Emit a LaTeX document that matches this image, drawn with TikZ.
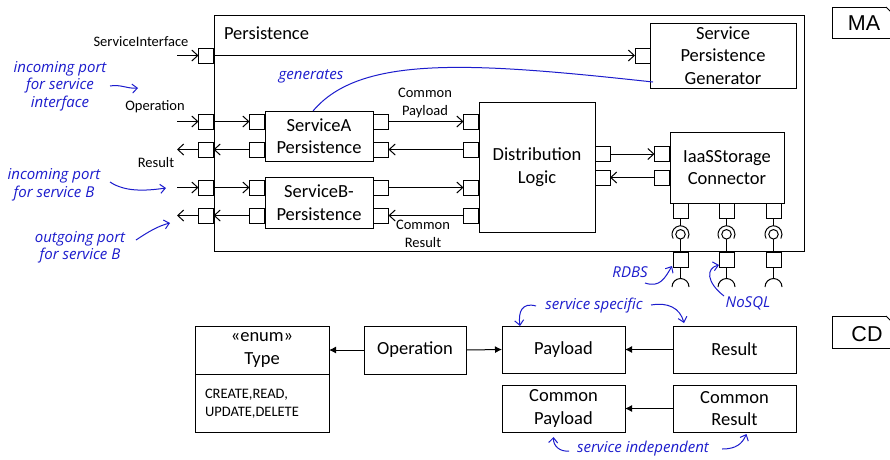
\documentclass[tikz,border=0pt]{standalone}
\usepackage{fontspec}
\setmainfont{Carlito}
\newfontfamily\handfont{Open Sans}
\newfontfamily\arialfont{Liberation Sans}
\usetikzlibrary{arrows.meta}
\definecolor{hand}{RGB}{28,28,205}
\begin{document}
\begin{tikzpicture}[x=1pt,y=1pt,
  every node/.style={inner sep=0pt, outer sep=0pt},
  bx/.style={draw, line width=1pt, align=center, font=\fontsize{18.5}{22.5}\selectfont},
  port/.style={draw, line width=1pt, fill=white, minimum width=15pt, minimum height=15pt},
  lbl/.style={font=\fontsize{14.5}{17.5}\selectfont, align=center},
  note/.style={text=hand, font=\handfont\itshape\fontsize{15}{17.5}\selectfont, align=center},
  ha/.style={draw=hand, line width=1pt, -{Straight Barb[length=5pt,width=9pt]}},
  fa/.style={line width=1pt, -{Straight Barb[length=6pt,width=11pt]}},
  ca/.style={line width=1pt, -{Latex[length=7pt,width=7pt]}},
  frame/.style={line width=1pt},
]
\useasboundingbox (0,0) rectangle (890,-459);
\fill[white] (0,0) rectangle (890,-459);

% ---------- MA part ----------
\node[draw, line width=1pt, minimum width=590pt, minimum height=236pt] (pers) at (509,-133) {};
\node[font=\fontsize{18.5}{22}\selectfont, anchor=west] (perst) at (224,-33) {Persistence};

\node[bx, minimum width=146pt, minimum height=65pt] (spg) at (723,-55.5) {Service\\Persistence\\Generator};
\node[port] (spgp) at (642.5,-55.5) {};

\node[port] (sip) at (206,-55.5) {};
\node[port] (opi) at (206,-121.5) {};
\node[port] (opo) at (206,-149.5) {};
\node[port] (bi)  at (206,-187.5) {};
\node[port] (bo)  at (206,-215.5) {};

\node[bx, minimum width=108pt, minimum height=50pt] (sa) at (319,-136) {ServiceA\\Persistence};
\node[bx, minimum width=108pt, minimum height=51pt] (sb) at (319,-202.5) {ServiceB-\\Persistence};
\node[port] (sal1) at (257,-121.5) {};
\node[port] (sal2) at (257,-149.5) {};
\node[port] (sar1) at (381,-121.5) {};
\node[port] (sar2) at (381,-149.5) {};
\node[port] (sbl1) at (257,-187.5) {};
\node[port] (sbl2) at (257,-215.5) {};
\node[port] (sbr1) at (381,-187.5) {};
\node[port] (sbr2) at (381,-215.5) {};

\node[bx, minimum width=116pt, minimum height=130pt] (dl) at (537,-167) {Distribution\\Logic};
\node[port] (dll1) at (471,-121.5) {};
\node[port] (dll2) at (471,-149.5) {};
\node[port] (dll3) at (471,-187.5) {};
\node[port] (dll4) at (471,-215.5) {};
\node[port] (dlr1) at (602.5,-154) {};
\node[port] (dlr2) at (602.5,-177.5) {};

\node[bx, minimum width=114pt, minimum height=71pt] (ia) at (727,-167.5) {IaaSStorage\\Connector};
\node[port] (ial1) at (662,-154) {};
\node[port] (ial2) at (662,-177.5) {};

\foreach \x/\i in {680.5/1,726.5/2,773.5/3}{
  \node[port] (iab\i) at (\x,-210.5) {};
  \node[port] (ext\i) at (\x,-259.5) {};
  \node[circle, draw, line width=1pt, minimum size=9.5pt] (ball\i) at (\x,-234.3) {};
  \coordinate (skt\i) at (\x,-225.8);
  \coordinate (skb\i) at (\x,-278.5);
  \draw[frame] (iab\i.south) -- (skt\i);
  \draw[frame] (\x,-234.3) ++(210:8.5) arc[start angle=210, end angle=-30, radius=8.5];
  \draw[frame] (ball\i.south) -- (ext\i.north);
  \draw[frame] (ext\i.south) -- (skb\i);
  \draw[frame] (\x,-287) ++(180:8.5) arc[start angle=180, end angle=0, radius=8.5];
}

% connectors
\coordinate (siin) at (177,-55.5);
\coordinate (opin) at (177,-121.5);
\coordinate (opout) at (177,-149.5);
\coordinate (bin) at (177,-187.5);
\coordinate (bout) at (177,-215.5);
\draw[fa] (siin) -- (sip.west);
\draw[fa] (sip.east) -- (spgp.west);
\draw[fa] (opin) -- (opi.west);
\draw[fa] (opi.east) -- (sal1.west);
\draw[fa] (sal2.west) -- (opo.east);
\draw[fa] (opo.west) -- (opout);
\draw[fa] (bin) -- (bi.west);
\draw[fa] (bi.east) -- (sbl1.west);
\draw[fa] (sbl2.west) -- (bo.east);
\draw[fa] (bo.west) -- (bout);
\draw[fa] (sar1.east) -- (dll1.west);
\draw[fa] (dll2.west) -- (sar2.east);
\draw[fa] (sbr1.east) -- (dll3.west);
\draw[fa] (dll4.west) -- (sbr2.east);
\draw[fa] (dlr1.east) -- (ial1.west);
\draw[fa] (ial2.west) -- (dlr2.east);

% labels
\node[lbl] (silbl) at (141,-42) {ServiceInterface};
\node[lbl] (oplbl) at (155,-107) {Operation};
\node[lbl] (reslbl) at (156,-163) {Result};
\node[lbl] (cpl) at (425,-103) {Common\\Payload};
\node[lbl] (crl) at (423,-234) {Common\\Result};

% MA tag
\draw[frame] (886,-7) -- (832,-7) -- (832,-38) -- (900,-38);
\draw[frame] (886,-7) -- (891,-12);
\node[font=\arialfont\fontsize{21.5}{24}\selectfont] (ma) at (864,-23.5) {MA};

% ---------- CD part ----------
\node[bx, minimum width=134pt, minimum height=48pt] (typeh) at (262,-350) {«enum»\\Type};
\node[draw, line width=1pt, minimum width=134pt, minimum height=58pt] (typea) at (262,-403) {};
\node[lbl, anchor=west, align=left] (typeat) at (205,-403.5) {CREATE,READ,\\UPDATE,DELETE};
\node[bx, minimum width=102pt, minimum height=48pt] (op) at (415,-350) {Operation};
\node[bx, minimum width=123pt, minimum height=47pt] (pay) at (563.5,-349.5) {Payload};
\node[bx, minimum width=123pt, minimum height=47pt] (res) at (734.5,-349.5) {Result};
\node[bx, minimum width=123pt, minimum height=47pt] (cpay) at (563.5,-408.5) {Common\\Payload};
\node[bx, minimum width=123pt, minimum height=47pt] (cres) at (734.5,-408.5) {Common\\Result};
\draw[ca] (op.west) -- (typeh.east);
\draw[ca] (op.east) -- (pay.west);
\draw[ca] (res.west) -- (pay.east);
\draw[ca] (cres.west) -- (cpay.east);

% CD tag
\draw[frame] (886,-316) -- (832,-316) -- (832,-348) -- (900,-348);
\draw[frame] (886,-316) -- (891,-321);
\node[font=\arialfont\fontsize{21.5}{24}\selectfont] (cd) at (867,-334) {CD};

% ---------- hand annotations ----------
\node[note] (n1) at (60,-86) {incoming port\\for service\\interface};
\coordinate (n1a) at (110,-86);
\coordinate (n1b) at (138,-88);
\draw[ha] (n1a) .. controls (120,-84) and (128,-89) .. (n1b);

\node[note] (n2) at (54,-185) {incoming port\\for service B};
\coordinate (n2a) at (110,-182);
\coordinate (n2b) at (166,-188);
\draw[ha] (n2a) .. controls (125,-192) and (145,-191) .. (n2b);

\node[note] (n3) at (80,-247.5) {outgoing port\\for service B};
\coordinate (n3a) at (136,-240);
\coordinate (n3b) at (170,-223);
\draw[ha] (n3a) .. controls (148,-232) and (158,-226) .. (n3b);

\node[note] (gen) at (311,-76) {generates};
\draw[draw=hand, line width=1pt] ([xshift=-6pt]sa.north) .. controls (360,-55) and (470,-62) .. ([xshift=3pt,yshift=6pt]spg.south west);

\node[note] (rdbs) at (630,-272) {RDBS};
\coordinate (rda) at (645,-283);
\coordinate (rdb) at (672,-266);
\draw[ha] (rda) .. controls (660,-288) and (665,-278) .. (rdb);

\node[note] (nosql) at (748,-303) {NoSQL};
\coordinate (nsa) at (724,-296);
\coordinate (nsb) at (719,-265);
\draw[ha] (nsa) .. controls (706,-282) and (706,-268) .. (nsb);

\node[note] (ssp) at (594,-306) {service specific};
\coordinate (ss1a) at (536,-306);
\coordinate (ss2a) at (651,-305);
\draw[ha] (ss1a) .. controls (522,-302) and (518,-312) .. ([xshift=18pt]pay.north west);
\draw[ha] (ss2a) .. controls (668,-302) and (680,-308) .. ([xshift=11pt,yshift=3pt]res.north west);

\node[note] (sind) at (643,-449) {service independent};
\coordinate (si1a) at (569,-451);
\coordinate (si2a) at (722,-449);
\draw[ha] (si1a) .. controls (560,-452) and (553,-446) .. ([xshift=-10pt,yshift=-5pt]cpay.south);
\draw[ha] (si2a) .. controls (736,-449) and (742,-444) .. ([xshift=12pt,yshift=-2pt]cres.south);
\end{tikzpicture}
\end{document}
